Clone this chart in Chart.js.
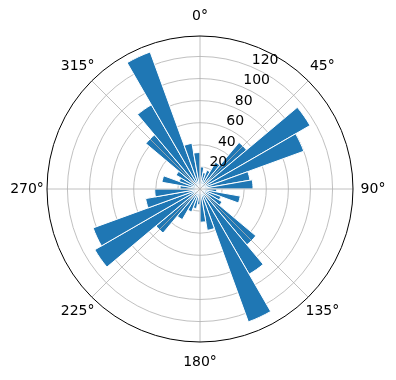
<!DOCTYPE html>
<html>
<head>
<meta charset="utf-8">
<script src="https://cdn.jsdelivr.net/npm/chart.js@4"></script>
<style>
  html, body { margin: 0; padding: 0; background: #fff; }
  #wrap { width: 396px; height: 380px; }
</style>
</head>
<body>
<div id="wrap"><canvas id="roseChart" width="396" height="380"></canvas></div>
<script>
// 10 degree direction bins, clockwise from north
const directions = ['0-10°', '10-20°', '20-30°', '30-40°', '40-50°', '50-60°', '60-70°', '70-80°', '80-90°',
    '90-100°', '100-110°', '110-120°', '120-130°', '130-140°', '140-150°', '150-160°', '160-170°', '170-180°',
    '180-190°', '190-200°', '200-210°', '210-220°', '220-230°', '230-240°', '240-250°', '250-260°', '260-270°',
    '270-280°', '280-290°', '290-300°', '300-310°', '310-320°', '320-330°', '330-340°', '340-350°', '350-360°'];
const counts = [20, 15, 18, 28, 55, 115, 100, 46, 48,
    15, 37, 20, 23, 66, 89, 128, 38, 30,
    14, 18, 22, 32, 52, 110, 103, 50, 41,
    18, 35, 20, 25, 64, 88, 132, 42, 33];
const angleTicks = [0, 45, 90, 135, 180, 225, 270, 315];
const rMax = 138.5;

const FONT = '14px "DejaVu Sans", sans-serif';

// matplotlib style angular grid, outer spine and labels
const polarDecor = {
    id: 'polarDecor',
    afterDraw(chart) {
        const scale = chart.scales.r;
        const ctx = chart.ctx;
        const cx = scale.xCenter, cy = scale.yCenter;
        const R = scale.drawingArea;
        const toXY = (deg, d) => {
            const a = deg * Math.PI / 180 - Math.PI / 2;
            return [cx + Math.cos(a) * d, cy + Math.sin(a) * d];
        };
        ctx.save();
        // angle lines
        ctx.strokeStyle = '#b0b0b0';
        ctx.lineWidth = 0.8;
        angleTicks.forEach(deg => {
            const [x, y] = toXY(deg, R);
            ctx.beginPath();
            ctx.moveTo(cx, cy);
            ctx.lineTo(x, y);
            ctx.stroke();
        });
        // outer spine
        ctx.strokeStyle = '#000';
        ctx.lineWidth = 1;
        ctx.beginPath();
        ctx.arc(cx, cy, R, 0, Math.PI * 2);
        ctx.stroke();
        // angle labels
        ctx.fillStyle = '#000';
        ctx.font = FONT;
        ctx.textAlign = 'center';
        ctx.textBaseline = 'middle';
        angleTicks.forEach(deg => {
            const [x, y] = toXY(deg, R + 20);
            ctx.fillText(deg + '°', x, y);
        });
        // radial tick labels at 22.5 degrees
        ctx.textAlign = 'left';
        ctx.textBaseline = 'alphabetic';
        scale.ticks.forEach(t => {
            if (t.value <= 0) return;
            const [x, y] = toXY(22.5, scale.getDistanceFromCenterForValue(t.value));
            ctx.fillText(String(t.value), x + 1, y - 2.5);
        });
        ctx.restore();
    }
};

const ctx = document.getElementById('roseChart').getContext('2d');
const roseChart = new Chart(ctx, {
    type: 'polarArea',
    data: {
        labels: directions,
        datasets: [{
            data: counts,
            backgroundColor: '#1f77b4',
            borderColor: '#ffffff',
            borderWidth: 1
        }]
    },
    options: {
        responsive: false,
        animation: false,
        layout: { padding: { left: 47, right: 43, top: 36, bottom: 38 } },
        plugins: {
            legend: { display: false },
            tooltip: { enabled: false }
        },
        scales: {
            r: {
                z: 1,
                min: 0,
                max: rMax,
                startAngle: 0,
                ticks: { display: false, stepSize: 20, includeBounds: false },
                grid: { color: '#b0b0b0', lineWidth: 0.8, circular: true },
                angleLines: { display: false },
                pointLabels: { display: false }
            }
        }
    },
    plugins: [polarDecor]
});
</script>
</body>
</html>
